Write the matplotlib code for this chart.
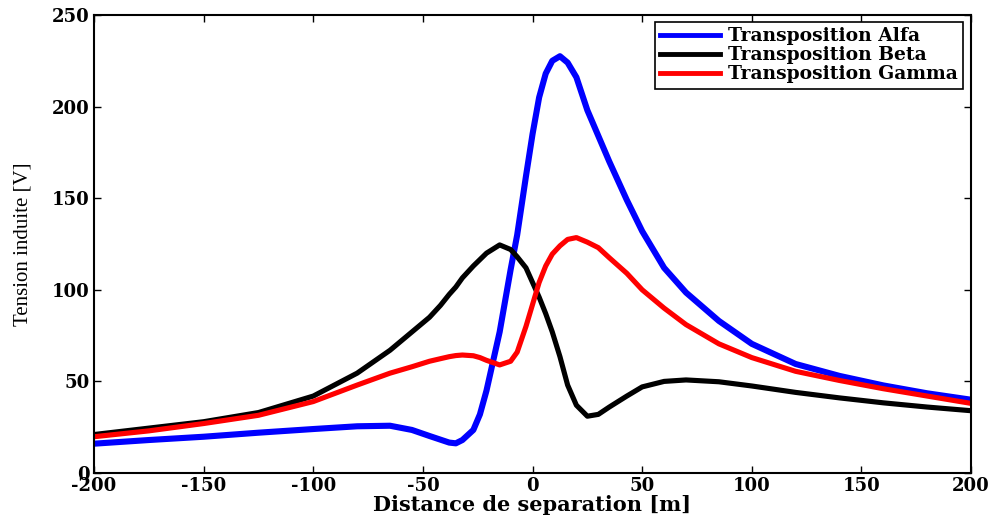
import matplotlib.pyplot as plt

plt.rcParams['axes.unicode_minus'] = False

# distance de separation [m]
distance = [-200, -175, -150, -125, -100, -80, -65, -55, -47, -42, -38, -35, -32, -27,
            -24, -21, -15, -10, -7, -3, 0, 3, 6, 9, 12.5, 16, 20, 25, 30, 35,
            43, 50, 60, 70, 85, 100, 120, 140, 160, 180, 200]

# tension induite [V]
alfa = [16, 18, 19.8, 22, 24, 25.5, 25.8, 23.5, 20.2, 18.2, 16.6, 16.2, 18, 23.5,
        32, 45, 77, 111, 130, 162, 185, 205, 218, 225, 227.5, 224, 216, 198, 184, 170,
        149, 132, 112, 98.5, 83, 70.5, 59.5, 53, 47.8, 43.5, 40]
beta = [21, 24.5, 28, 33, 42, 54.5, 67, 77, 85, 91.5, 97.5, 101.5, 106.5, 113,
        116.5, 120, 124.5, 122, 118, 112, 104, 96, 87, 77, 63.5, 48, 37, 31, 32, 36,
        42, 47, 50, 50.8, 49.8, 47.5, 44, 41, 38.3, 36, 34]
gamma = [19.8, 23, 27, 31.5, 39, 48, 54.5, 58, 61, 62.4, 63.5, 64.1, 64.4, 64,
         63, 61.5, 59, 61, 66, 80, 92, 104, 113, 119.5, 124, 127.5, 128.5, 126, 123, 117.5,
         109, 100, 90, 81, 70.5, 63, 55.5, 50.5, 46, 42, 38]

fig = plt.figure(figsize=(9.93, 5.17), dpi=100)
ax = fig.add_axes([0.0947, 0.0851, 0.8832, 0.8859])

ax.plot(distance, alfa, color="blue", linewidth=4.4, solid_joinstyle="round",
        label="Transposition Alfa")
ax.plot(distance, beta, color="black", linewidth=3.7, solid_joinstyle="round",
        label="Transposition Beta")
ax.plot(distance, gamma, color="red", linewidth=3.7, solid_joinstyle="round",
        label="Transposition Gamma")

ax.set_xlim(-200, 200)
ax.set_ylim(0, 250)
ax.set_xticks(range(-200, 201, 50))
ax.set_yticks(range(0, 251, 50))

ax.tick_params(direction="in", length=5, width=1, top=True, right=True,
               labelsize=13, pad=3)
for lab in ax.get_xticklabels() + ax.get_yticklabels():
    lab.set_fontfamily("DejaVu Serif")
    lab.set_fontweight("bold")
for sp in ax.spines.values():
    sp.set_linewidth(1.5)

ax.set_xlabel("Distance de separation [m]", fontsize=15, fontweight="bold",
              family="DejaVu Serif", labelpad=0)
ax.set_ylabel("Tension induite [V]", fontsize=15, family="Liberation Serif",
              labelpad=14)

leg = ax.legend(loc="upper right", bbox_to_anchor=(0.991, 0.985), borderaxespad=0,
                prop={"family": "DejaVu Serif", "weight": "bold", "size": 13.5},
                fancybox=False, framealpha=1, edgecolor="black",
                handlelength=3.2, handletextpad=0.4, labelspacing=0.05,
                borderpad=0.3)
leg.get_frame().set_linewidth(1.2)
for line in leg.get_lines():
    line.set_linewidth(3.5)

fig.savefig("out.png", dpi=100)
